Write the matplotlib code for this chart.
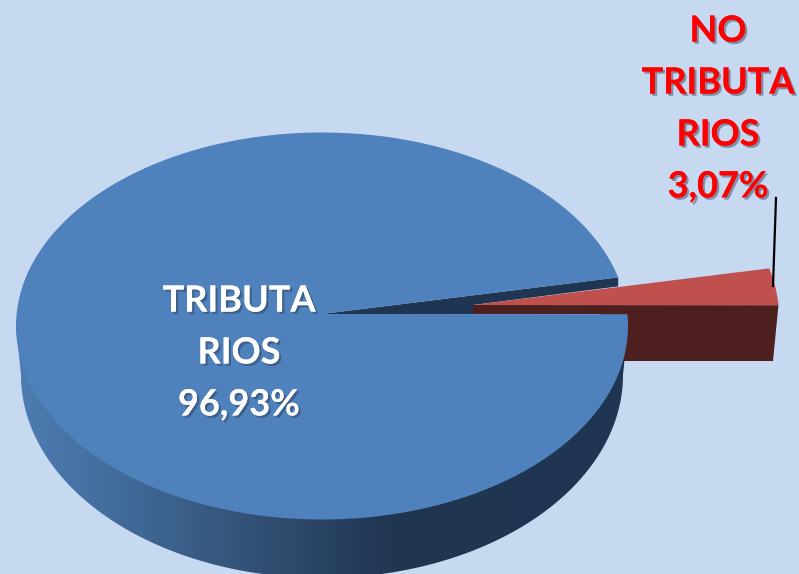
import numpy as np
import matplotlib.pyplot as plt
import matplotlib.patheffects as pe
from matplotlib.colors import LinearSegmentedColormap
from matplotlib.patches import Polygon

# data
labels = ["TRIBUTA\nRIOS\n96,93%", "NO\nTRIBUTA\nRIOS\n3,07%"]
shares = [96.93, 3.07]

BG = "#c6d9f1"
BLUE = "#4f81bd"
NAVY = "#1f3552"
RED = "#c0504d"
MAROON = "#4d1f1e"

# pie geometry, in picture pixels
cx, cy, rx, ry = 322, 326, 306, 193.5
base_cy, base_rx, base_ry = 375, 301, 203
apex = (322, 314)
start = 3.5  # where the small slice begins, degrees
blow_x, blow_y = 151, -9  # how far the small slice is pulled out

small = shares[1] * 3.6
end = start + small


def arc(a0, a1, x0=cx, y0=cy, w=rx, h=ry, n=240):
    t = np.radians(np.linspace(a0, a1, n))
    return np.column_stack([x0 + w * np.cos(t), y0 - h * np.sin(t)])


fig = plt.figure(figsize=(7.99, 5.74), dpi=100, facecolor=BG)
ax = fig.add_axes([0, 0, 1, 1])
ax.set_xlim(0, 799)
ax.set_ylim(574, 0)
ax.axis("off")

# side of the big slice, shaded left to right
side = np.vstack([arc(180, 180, n=1), arc(180, 360, cx, base_cy, base_rx, base_ry), arc(0, 0, n=1)])
side_patch = Polygon(side, closed=True, fc="none", ec="none")
ax.add_patch(side_patch)
shade = LinearSegmentedColormap.from_list(
    "side", [(0, "#4d7db3"), (0.2, "#3f6896"), (0.33, "#37587f"), (0.62, "#203550"), (1, NAVY)])
im = ax.imshow(np.linspace(0, 1, 256)[None, :], extent=(15, 628, 574, 300), cmap=shade,
               aspect="auto", zorder=1)
im.set_clip_path(side_patch)
ax.set_xlim(0, 799)
ax.set_ylim(574, 0)

# small slice: front wall, then top
x0, y0 = cx + blow_x, cy + blow_y
tip = (apex[0] + blow_x, apex[1] + blow_y)
right_top = arc(start, start, x0, y0, n=1)[0]
front = [tip, right_top, (773, 361), (600, 361), (600, tip[1] + 9), (tip[0], tip[1] + 9)]
ax.add_patch(Polygon(front, closed=True, fc=MAROON, ec="none", zorder=2))

# back wall of the big slice, seen through the gap
far = arc(end, end, n=1)[0]
wall = [apex, far, (far[0], far[1] + 9), tip, (tip[0], tip[1] + 9), (322, tip[1] + 9)]
ax.add_patch(Polygon(wall, closed=True, fc=NAVY, ec="none", zorder=2))

red_top = np.vstack([[tip], arc(start, end, x0, y0, n=40)])
ax.add_patch(Polygon(red_top, closed=True, fc=RED, ec="none", zorder=3))

# top of the big slice
blue_top = np.vstack([[apex], arc(end, 360 + start)])
ax.add_patch(Polygon(blue_top, closed=True, fc=BLUE, ec="none", zorder=4))

# leader line
ax.plot([776, 773], [198, 286], color="black", lw=1.6, zorder=5)


def shadow():
    return [pe.withSimplePatchShadow(offset=(1.6, -1.6), shadow_rgbFace="#25364f", alpha=0.45), pe.Normal()]


ax.text(239, 353, labels[0], color="white", fontsize=26, fontweight="bold", family="Lato",
        ha="center", va="center", linespacing=1.7, zorder=6, path_effects=shadow())
ax.text(718, 109, labels[1], color="#ff0000", fontsize=26, fontweight="bold", family="Lato",
        ha="center", va="center", linespacing=1.7, zorder=6, path_effects=shadow())

fig.savefig("out.png", dpi=100, facecolor=BG)
